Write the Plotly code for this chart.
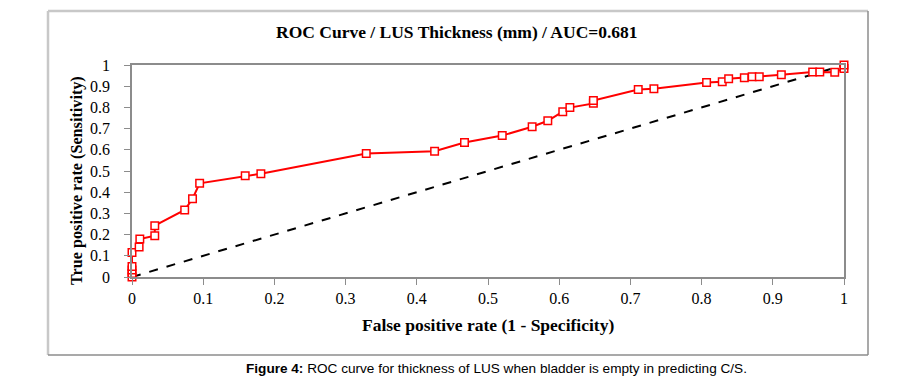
import plotly.graph_objects as go

# ROC curve points (false positive rate, true positive rate)
fpr = [0.0, 0.0, 0.0, 0.0, 0.0, 0.010, 0.011, 0.032, 0.032, 0.074, 0.085, 0.095,
       0.159, 0.181, 0.329, 0.425, 0.467, 0.520, 0.562, 0.584, 0.605, 0.615,
       0.648, 0.648, 0.711, 0.733, 0.807, 0.829, 0.838, 0.860, 0.871, 0.881,
       0.912, 0.956, 0.966, 0.987, 1.0, 1.0]
tpr = [0.0, 0.017, 0.033, 0.050, 0.115, 0.141, 0.179, 0.195, 0.242, 0.316, 0.369, 0.442,
       0.478, 0.487, 0.582, 0.593, 0.634, 0.667, 0.709, 0.737, 0.780, 0.799,
       0.819, 0.832, 0.884, 0.888, 0.917, 0.921, 0.935, 0.940, 0.945, 0.945,
       0.954, 0.967, 0.967, 0.966, 0.983, 1.0]
diag_x = [0, 1]
diag_y = [0, 1]
ticks = [0, 0.1, 0.2, 0.3, 0.4, 0.5, 0.6, 0.7, 0.8, 0.9, 1]
tick_text = ["0", "0.1", "0.2", "0.3", "0.4", "0.5", "0.6", "0.7", "0.8", "0.9", "1"]

OFF = 8  # page body margin
W, H = 920 - OFF, 385 - OFF
# target plot area in window pixels: x 132..844, y 65..277
L, T = 132 - OFF, 65 - OFF
R = 920 - 844
B = 385 - 277
pw, ph = 844 - 132, 277 - 65

def px(x):  # window pixel -> paper x
    return (x - 132) / pw

def py(y):  # window pixel -> paper y
    return (277 - y) / ph

fig = go.Figure()
fig.add_trace(go.Scatter(x=diag_x, y=diag_y, mode="lines",
                         line=dict(color="black", width=2, dash="dash"),
                         cliponaxis=False, showlegend=False))
fig.add_trace(go.Scatter(x=fpr, y=tpr, mode="lines+markers",
                         line=dict(color="#ff0000", width=2),
                         marker=dict(symbol="square", size=7.5, color="white",
                                     line=dict(width=1.5, color="#ff0000")),
                         cliponaxis=False, showlegend=False))

serif = "Liberation Serif"
axis_common = dict(showgrid=False, zeroline=False, showline=True, mirror=True,
                   linecolor="#8c8c8c", linewidth=1.5, ticks="outside", ticklen=6,
                   tickcolor="#8c8c8c", tickwidth=1,
                   tickfont=dict(family=serif, size=16, color="black"),
                   tickvals=ticks, ticktext=tick_text)
fig.update_xaxes(range=[0, 1], ticklabelstandoff=0, **axis_common)
fig.update_yaxes(range=[0, 1], ticklabelstandoff=11, **axis_common)

frame_light = "#c8c8c8"
frame_dark = "#8c8c8c"
x0f, x1f, y0f, y1f = px(48), px(868), py(355), py(11)
shapes = [
    dict(type="line", xref="paper", yref="paper", x0=x0f, x1=x0f, y0=y0f, y1=y1f,
         line=dict(color=frame_light, width=2.5)),
    dict(type="line", xref="paper", yref="paper", x0=x0f, x1=x1f, y0=y1f, y1=y1f,
         line=dict(color=frame_light, width=2.5)),
    dict(type="line", xref="paper", yref="paper", x0=x1f, x1=x1f, y0=y0f, y1=y1f,
         line=dict(color=frame_dark, width=1.5)),
    dict(type="line", xref="paper", yref="paper", x0=x0f, x1=x1f, y0=y0f, y1=y0f,
         line=dict(color=frame_dark, width=1.5)),
]

annotations = [
    dict(text="<b>ROC Curve / LUS Thickness (mm) / AUC=0.681</b>", xref="paper", yref="paper",
         x=px(457), y=py(32), showarrow=False, xanchor="center", yanchor="middle",
         font=dict(family=serif, size=17.5, color="black")),
    dict(text="<b>False positive rate (1 - Specificity)</b>", xref="paper", yref="paper",
         x=px(488), y=py(325), showarrow=False, xanchor="center", yanchor="middle",
         font=dict(family=serif, size=17.5, color="black")),
    dict(text="<b>True positive rate (Sensitivity)</b>", xref="paper", yref="paper",
         x=px(77), y=py(181), showarrow=False, xanchor="center", yanchor="middle",
         textangle=-90, font=dict(family=serif, size=16.2, color="black")),
    dict(text="<b>Figure 4:</b> ROC curve for thickness of LUS when bladder is empty in predicting C/S.",
         xref="paper", yref="paper", x=px(497), y=py(368), showarrow=False,
         xanchor="center", yanchor="middle",
         font=dict(family="Liberation Sans", size=13.6, color="black")),
]

fig.update_layout(width=W, height=H, margin=dict(l=L, r=R, t=T, b=B, autoexpand=False),
                  paper_bgcolor="white", plot_bgcolor="white",
                  shapes=shapes, annotations=annotations)

fig.write_html("out.html")
